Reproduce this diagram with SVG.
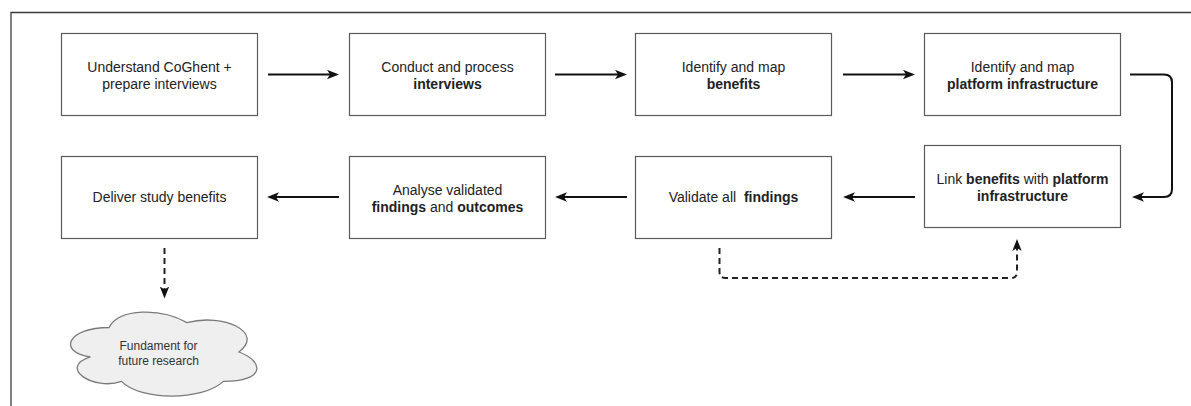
<svg xmlns="http://www.w3.org/2000/svg" width="1191" height="406" viewBox="0 0 1191 406">
  <style>
    .frame { fill: none; stroke: #3a3a3a; stroke-width: 1.3; }
    .box { fill: #ffffff; stroke: #5a5a5a; stroke-width: 1.2; }
    .lbl { font-family: "Liberation Sans", Arial, Helvetica, sans-serif; font-size: 14px; fill: #222222; text-anchor: middle; white-space: pre; }
    .small { font-size: 12px; fill: #333333; }
    .b { font-weight: bold; }
    .edge { fill: none; stroke: #111111; stroke-width: 2; }
    .dash { fill: none; stroke: #222222; stroke-width: 2; stroke-dasharray: 6 4; }
    .cloud { fill: #efefef; stroke: #7a7a7a; stroke-width: 1.3; }
  </style>
  <defs>
    <marker id="arrow" viewBox="0 0 12 10" markerWidth="12" markerHeight="10" refX="6" refY="5" orient="auto" markerUnits="userSpaceOnUse">
      <path d="M0,0.3 L12,5 L0,9.7 L3,5 Z" fill="#111111"/>
    </marker>
  </defs>

  <rect width="1191" height="406" fill="#ffffff"/>
  <!-- outer frame (top and left edges) -->
  <path class="frame" d="M11,406 V12.5 H1191"/>

  <!-- process steps -->
  <g id="understand">
    <rect class="box" x="61.5" y="33.5" width="196" height="82"/>
    <text class="lbl" x="159.5" y="72">Understand CoGhent +</text>
    <text class="lbl" x="159.5" y="88.5">prepare interviews</text>
  </g>
  <g id="conduct">
    <rect class="box" x="349.5" y="33.5" width="196" height="82"/>
    <text class="lbl" x="447.5" y="72">Conduct and process</text>
    <text class="lbl b" x="447.5" y="88.5">interviews</text>
  </g>
  <g id="map-benefits">
    <rect class="box" x="635.5" y="33.5" width="196" height="82"/>
    <text class="lbl" x="733.5" y="72">Identify and map</text>
    <text class="lbl b" x="733.5" y="88.5">benefits</text>
  </g>
  <g id="map-platform">
    <rect class="box" x="924.5" y="33.5" width="196" height="82"/>
    <text class="lbl" x="1022.5" y="72">Identify and map</text>
    <text class="lbl b" x="1022.5" y="88.5">platform infrastructure</text>
  </g>
  <g id="link">
    <rect class="box" x="924.5" y="145.5" width="196" height="82"/>
    <text class="lbl" x="1022.5" y="184">Link <tspan class="b">benefits</tspan> with <tspan class="b">platform</tspan></text>
    <text class="lbl b" x="1022.5" y="200.5">infrastructure</text>
  </g>
  <g id="validate">
    <rect class="box" x="635.5" y="156.5" width="196" height="82"/>
    <text class="lbl" x="733.5" y="202">Validate all  <tspan class="b">findings</tspan></text>
  </g>
  <g id="analyse">
    <rect class="box" x="349.5" y="156.5" width="196" height="82"/>
    <text class="lbl" x="447.5" y="195">Analyse validated</text>
    <text class="lbl" x="447.5" y="211.5"><tspan class="b">findings</tspan> and <tspan class="b">outcomes</tspan></text>
  </g>
  <g id="deliver">
    <rect class="box" x="61.5" y="156.5" width="196" height="82"/>
    <text class="lbl" x="159.5" y="202">Deliver study benefits</text>
  </g>
  <g id="future">
    <path class="cloud" d="M109,327.5 C67.4,327.5 57,352 90.3,356.9 C57,367.7 94.4,391.2 121.5,381.4 C140.2,401 202.6,401 223.4,381.4 C265,381.4 265,361.8 239,352 C265,332.4 223.4,312.8 187,322.6 C161,307.9 119.4,307.9 109,327.5 Z"/>
    <text class="lbl small" x="158.5" y="350">Fundament for</text>
    <text class="lbl small" x="158.5" y="364.5">future research</text>
  </g>

  <!-- connectors -->
  <g id="connectors">
    <path class="edge" d="M268,74.5 H333" marker-end="url(#arrow)"/>
    <path class="edge" d="M555,74.5 H621" marker-end="url(#arrow)"/>
    <path class="edge" d="M843,74.5 H909" marker-end="url(#arrow)"/>
    <path class="edge" d="M1130,74.5 H1164 Q1172,74.5 1172,82.5 V189 Q1172,197 1164,197 H1138" marker-end="url(#arrow)"/>
    <path class="edge" d="M915,197 H849" marker-end="url(#arrow)"/>
    <path class="edge" d="M627,197 H561" marker-end="url(#arrow)"/>
    <path class="edge" d="M339,197 H273" marker-end="url(#arrow)"/>
    <path class="dash" d="M164.5,248 V292.5" marker-end="url(#arrow)"/>
    <path class="dash" d="M719.5,248 V272 Q719.5,278 725.5,278 H1011 Q1017,278 1017,272 V245" marker-end="url(#arrow)"/>
  </g>
</svg>
